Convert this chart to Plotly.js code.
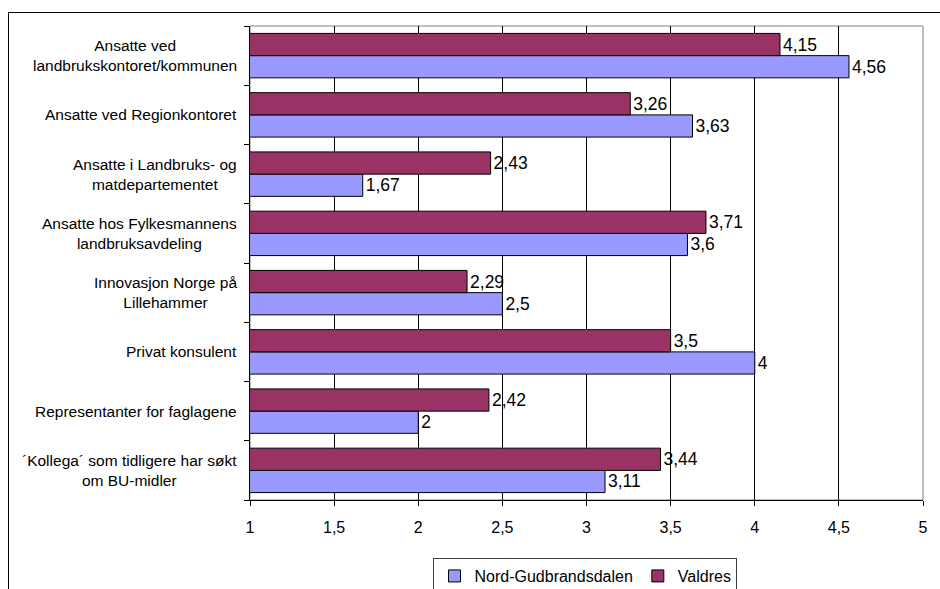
<!DOCTYPE html>
<html>
<head>
<meta charset="utf-8">
<script src="https://cdn.plot.ly/plotly-3.0.1.min.js"></script>
<style>html,body{margin:0;padding:0;background:#fff;}#chart{width:940px;height:589px;}</style>
</head>
<body>
<div id="chart"></div>
<script>
const categories = [
  "Ansatte ved<br>landbrukskontoret/kommunen",
  "Ansatte ved Regionkontoret",
  "Ansatte i Landbruks- og<br>matdepartementet",
  "Ansatte hos Fylkesmannens<br>landbruksavdeling",
  "Innovasjon Norge på<br>Lillehammer",
  "Privat konsulent",
  "Representanter for faglagene",
  "´Kollega´ som tidligere har søkt<br>om BU-midler"
];
const nordGudbrandsdalen = [4.56, 3.63, 1.67, 3.6, 2.5, 4, 2, 3.11];
const valdres = [4.15, 3.26, 2.43, 3.71, 2.29, 3.5, 2.42, 3.44];
const seriesNames = ["Nord-Gudbrandsdalen", "Valdres"];
const xTicks = [1, 1.5, 2, 2.5, 3, 3.5, 4, 4.5, 5];

const fmt = v => String(v).replace('.', ',');
const font = "Liberation Sans, Arial, sans-serif";

const traces = [
  {type:'bar', orientation:'h', name:seriesNames[0], y:categories, x:nordGudbrandsdalen,
   text:nordGudbrandsdalen.map(fmt), textposition:'outside', cliponaxis:false, constraintext:'none',
   textfont:{family:font,size:17.5,color:'#000'},
   marker:{color:'#9999FF', line:{color:'#000', width:1}}, hoverinfo:'none'},
  {type:'bar', orientation:'h', name:seriesNames[1], y:categories, x:valdres,
   text:valdres.map(fmt), textposition:'outside', cliponaxis:false, constraintext:'none',
   textfont:{family:font,size:17.5,color:'#000'},
   marker:{color:'#993366', line:{color:'#000', width:1}}, hoverinfo:'none'}
];

const annotations = categories.map(c => ({
  xref:'paper', yref:'y', x:0, y:c, xanchor:'right', yanchor:'middle', xshift:-11,
  text:c, align:'center', showarrow:false, font:{family:font,size:15.5,color:'#000'}
}));

const layout = {
  width:940, height:589,
  margin:{l:250, r:17, t:26, b:89, autoexpand:false},
  paper_bgcolor:'#fff', plot_bgcolor:'#fff',
  font:{family:font, size:16, color:'#000'},
  separators:', ',
  barmode:'group', bargap:0.25, bargroupgap:0,
  showlegend:true,
  legend:{orientation:'h', x:0.4985, xanchor:'center', y:-0.1224, yanchor:'top',
    bordercolor:'#404040', borderwidth:1, bgcolor:'#fff',
    font:{family:font,size:16,color:'#000'}, itemwidth:30, traceorder:'normal'},
  xaxis:{range:[1,5], tickvals:xTicks, ticktext:xTicks.map(fmt), showgrid:true, gridcolor:'#000', gridwidth:1,
    zeroline:false, showline:true, linecolor:'#000', linewidth:1, ticks:'outside', ticklen:5, tickcolor:'#000',
    ticklabelstandoff:8, tickfont:{family:font,size:16,color:'#000'}, fixedrange:true},
  yaxis:{type:'category', categoryorder:'array', categoryarray:categories.slice().reverse(),
    showticklabels:false, showgrid:false, zeroline:false, showline:true, linecolor:'#000', linewidth:1,
    ticks:'outside', ticklen:5, tickcolor:'#000', tickson:'boundaries', fixedrange:true},
  shapes:[
    {type:'rect', xref:'paper', yref:'paper', x0:0, x1:1, y0:0, y1:1, line:{color:'#808080', width:1}, layer:'below'},
    {type:'rect', xref:'paper', yref:'paper', x0:(8.5-250)/673, x1:(960-250)/673, y0:-0.3, y1:(500-12.5)/474, line:{color:'#000', width:1}, fillcolor:'rgba(0,0,0,0)'}
  ],
  annotations:annotations
};

Plotly.newPlot('chart', traces, layout, {displayModeBar:false, staticPlot:true});
</script>
</body>
</html>
